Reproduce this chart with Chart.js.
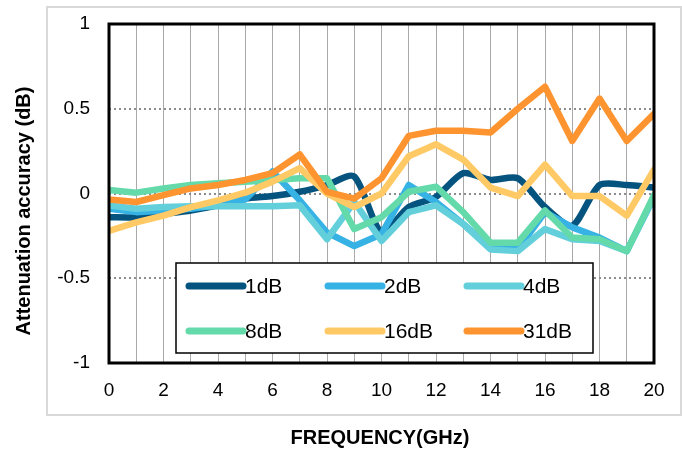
<!DOCTYPE html>
<html>
<head>
<meta charset="utf-8">
<script src="https://cdn.jsdelivr.net/npm/chart.js@4.4.1/dist/chart.umd.min.js"></script>
<style>
  html, body { margin: 0; padding: 0; background: #fff; }
  #wrap { width: 682px; height: 450px; }
</style>
</head>
<body>
<div id="wrap"><canvas id="attChart" width="682" height="450"></canvas></div>
<script>
// Frequency points (GHz)
const freq = [0, 1, 2, 3, 4, 5, 6, 7, 8, 9, 10, 11, 12, 13, 14, 15, 16, 17, 18, 19, 20];

// Attenuation accuracy (dB) for each state
const db1  = [-0.14, -0.14, -0.12, -0.10, -0.07, -0.03, -0.015, 0.01, 0.05, 0.10, -0.23, -0.08, -0.02, 0.12, 0.08, 0.09, -0.08, -0.19, 0.05, 0.05, 0.035];
const db2  = [-0.09, -0.11, -0.10, -0.09, -0.07, -0.035, 0.13, -0.04, -0.23, -0.31, -0.24, 0.05, -0.05, -0.18, -0.32, -0.33, -0.11, -0.20, -0.26, -0.34, -0.02];
const db4  = [-0.07, -0.09, -0.08, -0.075, -0.075, -0.075, -0.075, -0.07, -0.27, -0.05, -0.28, -0.11, -0.07, -0.18, -0.33, -0.34, -0.21, -0.27, -0.28, -0.34, -0.02];
const db8  = [0.02, 0.005, 0.03, 0.05, 0.06, 0.07, 0.08, 0.09, 0.09, -0.21, -0.14, 0.01, 0.04, -0.11, -0.29, -0.29, -0.10, -0.26, -0.27, -0.34, -0.01];
const db16 = [-0.22, -0.17, -0.13, -0.08, -0.04, 0.005, 0.07, 0.15, 0.0, -0.08, 0.0, 0.22, 0.29, 0.20, 0.035, -0.015, 0.17, -0.015, -0.015, -0.13, 0.14];
const db31 = [-0.035, -0.05, -0.01, 0.03, 0.05, 0.08, 0.12, 0.23, 0.01, -0.03, 0.09, 0.34, 0.37, 0.37, 0.36, 0.50, 0.63, 0.31, 0.56, 0.31, 0.47];

const seriesNames = ['1dB', '2dB', '4dB', '8dB', '16dB', '31dB'];
const seriesData = [db1, db2, db4, db8, db16, db31];
const seriesColors = ['#05547f', '#36b2e5', '#63cfdb', '#64d9a9', '#ffca66', '#fe9430'];

const yTicks = [-1, -0.5, 0, 0.5, 1];

// Frame, outer box, axis titles and the boxed legend
const decorPlugin = {
  id: 'decor',
  beforeDraw(chart) {
    const ctx = chart.ctx;
    ctx.save();
    ctx.strokeStyle = '#d9d9d9';
    ctx.lineWidth = 2;
    ctx.strokeRect(47, 7, 634, 408);
    ctx.restore();
  },
  afterDatasetsDraw(chart) {
    const ctx = chart.ctx;
    const a = chart.chartArea;
    ctx.save();
    ctx.strokeStyle = '#000';
    ctx.lineWidth = 3;
    ctx.strokeRect(a.left, a.top, a.right - a.left, a.bottom - a.top);

    // legend box
    const lx = 176, ly = 263, lw = 417, lh = 90;
    ctx.fillStyle = '#fff';
    ctx.fillRect(lx, ly, lw, lh);
    ctx.lineWidth = 1.5;
    ctx.strokeStyle = '#000';
    ctx.strokeRect(lx, ly, lw, lh);

    const colX = [189, 328, 467];
    const rowY = [286, 331];
    ctx.font = '21px "Liberation Sans", Arial, sans-serif';
    ctx.textBaseline = 'middle';
    ctx.textAlign = 'left';
    chart.data.datasets.forEach((ds, i) => {
      const x = colX[i % 3];
      const y = rowY[Math.floor(i / 3)];
      ctx.strokeStyle = ds.borderColor;
      ctx.lineWidth = 7;
      ctx.lineCap = 'round';
      ctx.beginPath();
      ctx.moveTo(x, y);
      ctx.lineTo(x + 54, y);
      ctx.stroke();
      ctx.fillStyle = '#000';
      ctx.fillText(ds.label, x + 56, y + 1);
    });

    // axis titles
    ctx.fillStyle = '#000';
    ctx.font = 'bold 20px "Liberation Sans", Arial, sans-serif';
    ctx.textAlign = 'center';
    ctx.fillText('FREQUENCY(GHz)', 380, 438);
    ctx.translate(24, 211);
    ctx.rotate(-Math.PI / 2);
    ctx.fillText('Attenuation accuracy (dB)', 0, 0);
    ctx.restore();
  }
};

const datasets = seriesNames.map((name, i) => ({
  label: name,
  data: freq.map((f, j) => ({ x: f, y: seriesData[i][j] })),
  borderColor: seriesColors[i],
  backgroundColor: seriesColors[i],
  borderWidth: 6.5,
  pointRadius: 0,
  tension: i === 0 ? 0.25 : 0,
  borderJoinStyle: 'round',
  borderCapStyle: 'round',
  order: seriesNames.length - i
}));

new Chart(document.getElementById('attChart').getContext('2d'), {
  type: 'line',
  data: { datasets: datasets },
  options: {
    responsive: false,
    animation: false,
    layout: { padding: { left: 0, top: 24, right: 28, bottom: 0 } },
    plugins: {
      legend: { display: false },
      tooltip: { enabled: false }
    },
    scales: {
      x: {
        type: 'linear',
        min: 0,
        max: 20,
        afterFit: (scale) => {
          scale.height = 87;
          scale.paddingLeft = 0;
          scale.paddingRight = 0;
        },
        ticks: {
          stepSize: 1,
          autoSkip: false,
          maxRotation: 0,
          padding: 16,
          color: '#000',
          font: { family: '"Liberation Sans", Arial, sans-serif', size: 19 },
          callback: (v) => (v % 2 === 0 ? v : '')
        },
        grid: { color: '#a9a9a9', lineWidth: 1, drawTicks: false },
        border: { display: false }
      },
      y: {
        min: -1,
        max: 1,
        afterFit: (scale) => {
          scale.width = 109;
          scale.paddingTop = 0;
          scale.paddingBottom = 0;
        },
        afterBuildTicks: (scale) => { scale.ticks = yTicks.map(v => ({ value: v })); },
        ticks: {
          padding: 19,
          color: '#000',
          font: { family: '"Liberation Sans", Arial, sans-serif', size: 19 },
          callback: (v) => v
        },
        grid: { color: '#8c8c8c', lineWidth: 2, drawTicks: false },
        border: { display: false, dash: [2, 3] }
      }
    }
  },
  plugins: [decorPlugin]
});
</script>
</body>
</html>
